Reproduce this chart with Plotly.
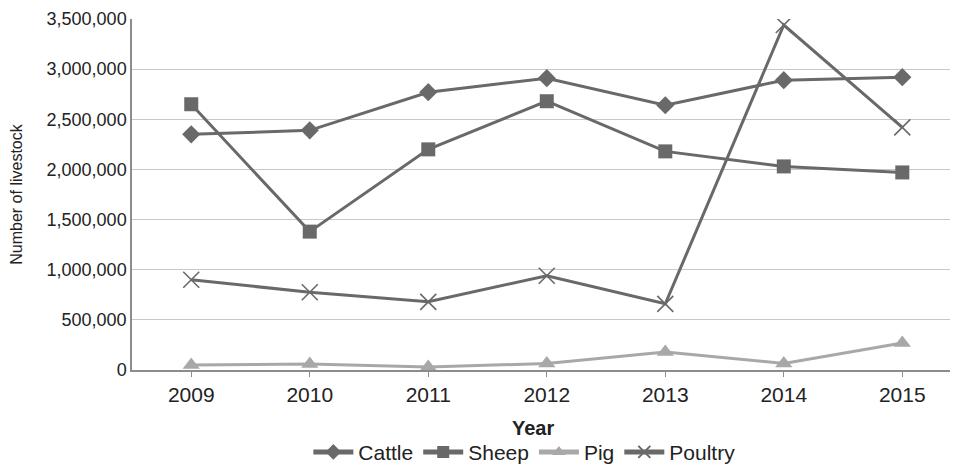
import plotly.graph_objects as go

years = ["2009", "2010", "2011", "2012", "2013", "2014", "2015"]
cattle = [2350000, 2390000, 2770000, 2910000, 2640000, 2890000, 2920000]
sheep = [2650000, 1380000, 2200000, 2680000, 2180000, 2030000, 1970000]
pig = [50000, 60000, 30000, 65000, 180000, 65000, 270000]
poultry = [900000, 775000, 680000, 940000, 660000, 3440000, 2420000]

dark = "#696969"
light = "#a8a8a8"

fig = go.Figure()
fig.add_trace(go.Scatter(x=years, y=cattle, name="Cattle", mode="lines+markers",
                         line=dict(color=dark, width=3),
                         marker=dict(symbol="diamond", size=14, color=dark)))
fig.add_trace(go.Scatter(x=years, y=sheep, name="Sheep", mode="lines+markers",
                         line=dict(color=dark, width=3),
                         marker=dict(symbol="square", size=14, color=dark)))
fig.add_trace(go.Scatter(x=years, y=pig, name="Pig", mode="lines+markers",
                         line=dict(color=light, width=3),
                         marker=dict(symbol="triangle-up", size=15, color=light)))
fig.add_trace(go.Scatter(x=years, y=poultry, name="Poultry", mode="lines+markers",
                         line=dict(color=dark, width=3),
                         marker=dict(symbol="x-thin", size=16, color=dark,
                                     line=dict(color=dark, width=1.6))))

# page body has an 8px margin, so the figure is sized to fit the 958x466 window
fig.update_layout(
    width=950, height=458,
    margin=dict(l=124, r=0, t=11, b=96, autoexpand=False),
    paper_bgcolor="white", plot_bgcolor="white",
    font=dict(family="Liberation Sans, Arial, sans-serif", color="#222222", size=18),
    showlegend=True,
    legend=dict(orientation="h", x=0.475, xanchor="center",
                yref="container", y=0.03, yanchor="middle",
                font=dict(size=21, color="#222222"), itemwidth=40, tracegroupgap=0,
                itemsizing="constant"),
    xaxis=dict(type="category", range=[-0.5, 6.47], showgrid=False, automargin=False,
               showline=True, linecolor="#8c8c8c", linewidth=1.5,
               ticks="outside", ticklen=5, tickcolor="#8c8c8c",
               ticklabelstandoff=0,
               tickfont=dict(size=21)),
    yaxis=dict(range=[0, 3500000], dtick=500000, tickformat=",d", automargin=False,
               showgrid=True, gridcolor="#c8c8c8", gridwidth=1.2,
               showline=True, linecolor="#8c8c8c", linewidth=1.5,
               zeroline=False, ticks="", tickfont=dict(size=18),
               title=dict(text="Number of livestock", font=dict(size=16), standoff=20)),
    annotations=[dict(text="<b>Year</b>", xref="paper", yref="paper",
                      x=0.486, y=-0.166, xanchor="center", yanchor="middle",
                      showarrow=False, font=dict(size=20, color="#222222"))],
)

fig.write_html("out.html")
